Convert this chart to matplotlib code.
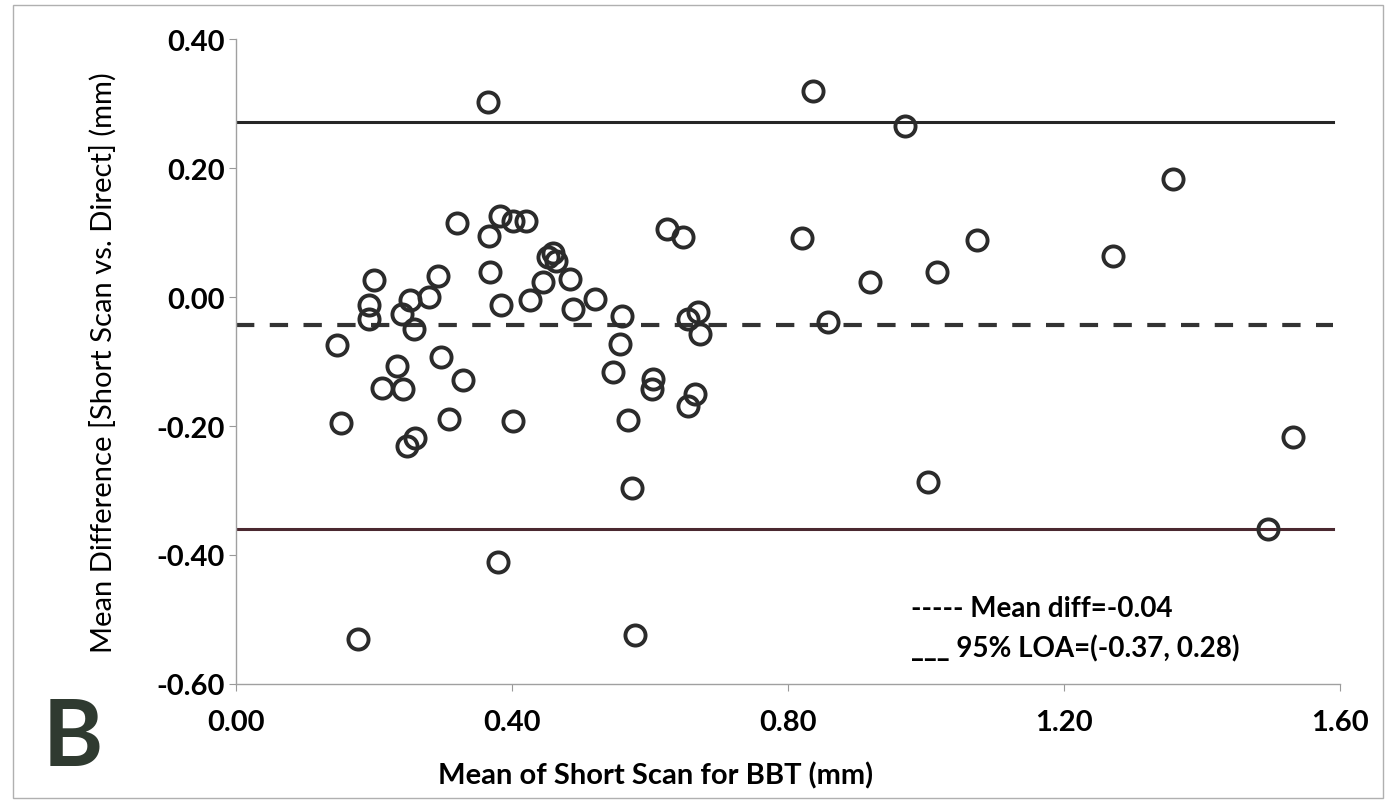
import matplotlib
matplotlib.use("Agg")
import matplotlib.pyplot as plt
from matplotlib.patches import Rectangle

# Bland-Altman: mean of short scan (x) vs mean difference (y)
mean_bbt = [0.146, 0.152, 0.200, 0.193, 0.193, 0.212, 0.233, 0.242, 0.241, 0.252,
            0.258, 0.248, 0.259, 0.280, 0.293, 0.297, 0.309, 0.320, 0.329, 0.365,
            0.367, 0.368, 0.383, 0.384, 0.380, 0.401, 0.401, 0.420, 0.426, 0.445,
            0.452, 0.459, 0.464, 0.484, 0.488, 0.520, 0.546, 0.557, 0.559, 0.568,
            0.574, 0.578, 0.604, 0.603, 0.625, 0.648, 0.655, 0.670, 0.672, 0.665,
            0.655, 0.177,
            0.836, 0.970, 0.820, 0.919, 1.016, 1.074, 0.859, 1.272, 1.358, 1.004,
            1.532, 1.497]
mean_diff = [-0.074, -0.195, 0.026, -0.012, -0.034, -0.141, -0.107, -0.143, -0.026, -0.005,
             -0.050, -0.231, -0.219, 0.000, 0.033, -0.093, -0.189, 0.115, -0.129, 0.302,
             0.095, 0.039, 0.126, -0.012, -0.411, -0.192, 0.118, 0.118, -0.005, 0.023,
             0.062, 0.068, 0.056, 0.028, -0.019, -0.003, -0.116, -0.073, -0.029, -0.191,
             -0.296, -0.524, -0.127, -0.143, 0.105, 0.093, -0.034, -0.023, -0.057, -0.150,
             -0.169, -0.530,
             0.319, 0.265, 0.091, 0.023, 0.039, 0.088, -0.039, 0.064, 0.183, -0.287,
             -0.217, -0.360]

bias = -0.044
loa_upper = 0.271
loa_lower = -0.359

x_ticks = [0.0, 0.4, 0.8, 1.2, 1.6]
y_ticks = [-0.6, -0.4, -0.2, 0.0, 0.2, 0.4]

plt.rcParams['font.family'] = ['Lato', 'DejaVu Sans']

fig = plt.figure(figsize=(13.91, 8.03), dpi=100)
ax = fig.add_axes([0.1697, 0.147, 0.7933, 0.803])

ax.plot([0, 1.59], [loa_upper, loa_upper], color='#262626', lw=2.2, zorder=2)
ax.plot([0, 1.59], [loa_lower, loa_lower], color='#4a2830', lw=2.2, zorder=2)
ax.plot([0, 1.59], [bias, bias], color='#333333', lw=3, dashes=(4.4, 3.7), zorder=2)

ax.plot(mean_bbt, mean_diff, 'o', ls='none', ms=14.5, mfc='none', mec='#2b2b2b',
        mew=2.8, zorder=3)

ax.set_xlim(0, 1.6)
ax.set_ylim(-0.6, 0.4)
ax.set_xticks(x_ticks)
ax.set_yticks(y_ticks)
ax.set_xticklabels([f"{v:.2f}" for v in x_ticks], fontsize=21, fontweight='bold')
ax.set_yticklabels([f"{v:.2f}" for v in y_ticks], fontsize=21, fontweight='bold')
ax.tick_params(axis='both', direction='out', length=5, width=0.8, color='#999999')
ax.tick_params(axis='y', pad=3)
ax.tick_params(axis='x', pad=13)

for s in ['top', 'right']:
    ax.spines[s].set_visible(False)
for s in ['left', 'bottom']:
    ax.spines[s].set_color('#a0a0a0')
    ax.spines[s].set_linewidth(1.0)

ax.set_xlabel('Mean of Short Scan for BBT (mm)', fontsize=21, fontweight='bold',
              labelpad=19, x=0.38)
ax.set_ylabel('Mean Difference [Short Scan vs. Direct] (mm)', fontsize=21,
              labelpad=29)

ax.text(0.612, 0.118, '----- Mean diff=-0.04', transform=ax.transAxes,
        fontsize=20, fontweight='bold', va='center')
ax.text(0.612, 0.056, '___ 95% LOA=(-0.37, 0.28)', transform=ax.transAxes,
        fontsize=20, fontweight='bold', va='center')

fig.text(0.052, 0.079, 'B', fontsize=66, fontweight='bold', color='#2f3a30',
         va='center', ha='center')

fig.patches.append(Rectangle((0.009, 0.005), 0.985, 0.988, transform=fig.transFigure,
                             fill=False, ec='#b0b0b0', lw=1.0))

fig.savefig('out.png', dpi=100)
